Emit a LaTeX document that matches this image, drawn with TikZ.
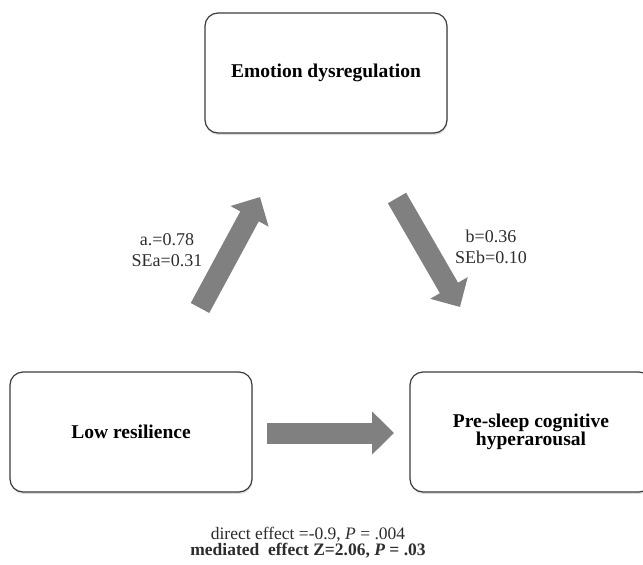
\documentclass[tikz,border=0pt]{standalone}
\usepackage{fontspec}
\setmainfont{Liberation Serif}
\usetikzlibrary{arrows.meta,shadows}
\definecolor{boxline}{RGB}{60,60,60}
\definecolor{arrowgray}{RGB}{128,128,128}
\definecolor{labtext}{RGB}{45,45,45}
\tikzset{
  varbox/.style={draw=boxline, line width=1.2pt, rounded corners=13pt, fill=white,
    minimum width=242pt, minimum height=120pt, inner sep=0pt, align=center,
    font=\fontsize{19.5}{18}\selectfont\bfseries,
    drop shadow={opacity=0.25, shadow xshift=0.5pt, shadow yshift=-2pt}},
  blockarrow/.style={arrowgray, line width=21pt, -{Triangle[length=22pt, width=42pt]}},
  coef/.style={text=labtext, align=center, inner sep=0pt, font=\fontsize{18}{21}\selectfont},
  effect/.style={text=labtext, inner sep=0pt, anchor=base, font=\fontsize{17.5}{17.5}\selectfont}
}
\begin{document}
\begin{tikzpicture}[x=1pt, y=-1pt]
        \useasboundingbox (0,0) rectangle (643,565);
        \clip (0,0) rectangle (643,565);
        \node [varbox] (emo) at (326,73) {Emotion dysregulation};
        \node [varbox] (low) at (131,432) {Low resilience};
        \node [varbox] (pre) at (531,432) {Pre-sleep cognitive\\hyperarousal};
        \coordinate (up_tail) at (200,308);
        \coordinate (up_head) at (260,197);
        \coordinate (down_tail) at (397,198);
        \coordinate (down_head) at (460,307);
        \coordinate (side_tail) at (267,433);
        \coordinate (side_head) at (394,433);
        \draw [blockarrow] (up_tail) -- (up_head);
        \draw [blockarrow] (down_tail) -- (down_head);
        \draw [blockarrow] (side_tail) -- (side_head);
        \node [coef] (lab_a) at (167,250) {a.=0.78\\SEa=0.31};
        \node [coef] (lab_b) at (491,247) {b=0.36\\SEb=0.10};
        \node [effect] (direct) at (308,539) {direct effect =-0.9, \textit{P} = .004};
        \node [effect, font=\fontsize{17.5}{17.5}\selectfont\bfseries] (mediated) at (308,555.5) {mediated~ effect Z=2.06, \textit{P} = .03};
      \end{tikzpicture}
\end{document}
